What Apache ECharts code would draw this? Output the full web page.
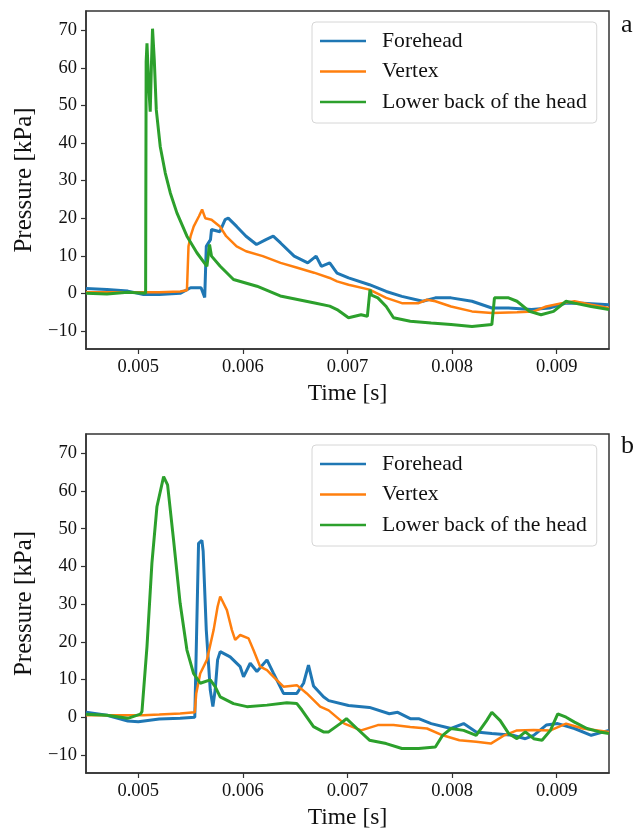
<!DOCTYPE html>
<html>
<head>
<meta charset="utf-8">
<script src="https://cdn.jsdelivr.net/npm/echarts@6/dist/echarts.min.js"></script>
<style>html,body{margin:0;padding:0;background:#fff}#c{width:643px;height:831px}</style>
</head>
<body>
<div id="c"></div>
<script>
// ---- data (time [s], pressure [kPa]) ----
var seriesNames = ['Forehead', 'Vertex', 'Lower back of the head'];
var xTicks = [0.005, 0.006, 0.007, 0.008, 0.009];
var yTicks = [-10, 0, 10, 20, 30, 40, 50, 60, 70];

var topForehead = [[0.0045,1.3],[0.0047,1.0],[0.0049,0.6],[0.00505,-0.3],[0.0052,-0.3],[0.0054,0.0],[0.0055,1.5],[0.0056,1.5],[0.005635,-1.1],[0.00565,12.5],[0.00569,14.3],[0.0057,17.0],[0.00578,16.4],[0.00583,19.6],[0.00586,20.0],[0.00594,17.8],[0.00603,15.2],[0.00613,13.0],[0.00622,14.3],[0.00629,15.2],[0.00636,13.4],[0.00649,9.9],[0.00662,8.1],[0.0067,9.9],[0.00675,7.2],[0.00683,8.1],[0.0069,5.4],[0.00701,4.1],[0.00721,2.3],[0.00737,0.5],[0.00752,-0.8],[0.00772,-2.1],[0.00784,-1.2],[0.00799,-1.2],[0.00819,-2.1],[0.00838,-3.9],[0.00854,-3.9],[0.00876,-4.3],[0.00893,-3.9],[0.00909,-2.6],[0.00925,-2.6],[0.0095,-3.0]];
var topVertex = [[0.0045,0.3],[0.005,0.3],[0.0052,0.3],[0.0054,0.5],[0.005465,0.8],[0.00548,12.5],[0.0055,15.2],[0.00553,17.8],[0.00558,20.5],[0.00561,22.3],[0.00564,20.0],[0.0057,19.6],[0.00578,17.8],[0.00584,15.2],[0.00594,12.5],[0.00603,11.2],[0.00619,9.9],[0.00636,8.1],[0.00652,6.8],[0.00668,5.5],[0.00683,4.1],[0.0069,3.2],[0.00701,2.3],[0.00721,1.0],[0.00737,-1.2],[0.00752,-2.6],[0.00768,-2.6],[0.00776,-1.7],[0.00784,-2.1],[0.00799,-3.5],[0.00819,-4.8],[0.00838,-5.2],[0.00862,-5.0],[0.00878,-4.8],[0.0089,-3.5],[0.00905,-2.6],[0.00917,-2.1],[0.00933,-3.0],[0.0095,-3.9]];
var topBack = [[0.0045,0.0],[0.0047,-0.2],[0.0049,0.3],[0.00507,0.0],[0.005075,61.6],[0.005083,66.5],[0.0051,55.0],[0.005114,48.3],[0.005125,60.3],[0.005136,70.4],[0.005153,62.0],[0.005172,48.8],[0.00521,39.0],[0.005258,32.0],[0.005306,26.7],[0.005369,21.4],[0.005465,15.2],[0.00556,10.8],[0.005656,7.2],[0.005681,13.0],[0.0057,9.9],[0.005783,7.2],[0.00591,3.7],[0.006134,1.9],[0.006357,-0.7],[0.006675,-2.5],[0.00683,-3.4],[0.0069,-4.3],[0.00701,-6.5],[0.00713,-5.7],[0.00719,-6.1],[0.007215,1.0],[0.00723,-0.5],[0.00729,-1.2],[0.00737,-3.5],[0.00744,-6.5],[0.0076,-7.4],[0.0078,-7.9],[0.00799,-8.3],[0.00819,-8.8],[0.00838,-8.3],[0.008405,-1.2],[0.00841,-1.0],[0.00854,-1.2],[0.00862,-2.1],[0.00874,-4.8],[0.00885,-5.7],[0.00897,-4.8],[0.00909,-2.1],[0.00917,-2.6],[0.00933,-3.5],[0.0095,-4.3]];

var botForehead = [[0.0045,1.3],[0.0047,0.5],[0.0049,-1.0],[0.005,-1.2],[0.0052,-0.5],[0.0054,-0.3],[0.00554,0.0],[0.005576,46.1],[0.005608,46.9],[0.00562,44.0],[0.00565,23.1],[0.005688,7.2],[0.005713,2.8],[0.005735,7.2],[0.005758,15.2],[0.005783,17.4],[0.005878,16.0],[0.005974,13.4],[0.006006,10.7],[0.00607,14.3],[0.006134,12.1],[0.00623,15.2],[0.006293,11.6],[0.006388,6.3],[0.006516,6.3],[0.00658,9.0],[0.006627,13.8],[0.006675,8.3],[0.00677,5.4],[0.00682,4.4],[0.00701,3.1],[0.00721,2.6],[0.0074,0.9],[0.00748,1.3],[0.0076,-0.4],[0.00768,-0.4],[0.0078,-1.7],[0.00799,-3.0],[0.00811,-1.7],[0.00823,-3.9],[0.00838,-4.3],[0.00858,-4.8],[0.0087,-5.7],[0.00878,-4.8],[0.0089,-2.1],[0.00901,-1.7],[0.00917,-3.0],[0.00933,-4.8],[0.0095,-3.5]];
var botVertex = [[0.0045,0.5],[0.00505,0.5],[0.0052,0.7],[0.0054,1.0],[0.00554,1.3],[0.005554,6.3],[0.005592,11.6],[0.005656,15.2],[0.00572,23.1],[0.005758,29.3],[0.005783,32.0],[0.005847,28.4],[0.005895,23.1],[0.005926,20.5],[0.005974,21.8],[0.006054,20.9],[0.006101,17.8],[0.006165,13.4],[0.00623,12.5],[0.006293,10.7],[0.006388,8.1],[0.006516,8.5],[0.006611,6.3],[0.006739,2.8],[0.00682,1.8],[0.00697,-1.7],[0.00713,-3.5],[0.00729,-2.1],[0.00744,-2.1],[0.0076,-2.6],[0.00776,-3.0],[0.00791,-4.8],[0.00807,-6.1],[0.00823,-6.5],[0.00837,-7.0],[0.0085,-4.8],[0.00862,-3.5],[0.00878,-3.4],[0.00894,-3.5],[0.00909,-1.7],[0.00925,-3.0],[0.0095,-3.9]];
var botBack = [[0.0045,0.8],[0.0047,0.5],[0.0049,-0.3],[0.00502,0.8],[0.005035,1.5],[0.005083,18.7],[0.00513,40.8],[0.005178,55.8],[0.005242,63.8],[0.00528,61.6],[0.005337,47.0],[0.0054,30.2],[0.005465,17.8],[0.005528,11.6],[0.005592,9.0],[0.005688,9.9],[0.005735,8.1],[0.005783,5.4],[0.00591,3.6],[0.006038,2.8],[0.00623,3.2],[0.00642,3.8],[0.006516,3.6],[0.006564,1.9],[0.006675,-2.5],[0.00677,-3.9],[0.00682,-3.9],[0.00693,-1.7],[0.00699,-0.4],[0.00709,-3.0],[0.00721,-6.1],[0.00737,-7.0],[0.00752,-8.3],[0.00768,-8.3],[0.00784,-7.9],[0.00791,-4.8],[0.00799,-3.0],[0.00811,-3.5],[0.00823,-4.8],[0.00833,-0.9],[0.00838,1.3],[0.00846,-0.9],[0.00854,-4.3],[0.00862,-5.7],[0.0087,-3.9],[0.00878,-5.7],[0.00886,-6.1],[0.00894,-3.5],[0.00901,0.9],[0.00909,0.0],[0.00917,-1.3],[0.00929,-3.0],[0.00941,-3.9],[0.0095,-4.3]];

var colors = ['#1f77b4', '#ff7f0e', '#2ca02c'];
var FONT = '"Liberation Serif", "Times New Roman", serif';
var AX = '#333333';

function xAxisCfg(idx) {
  return {
    type: 'value', gridIndex: idx, min: 0.0045, max: 0.0095,
    name: 'Time [s]', nameLocation: 'middle', nameGap: 33,
    nameTextStyle: { fontFamily: FONT, fontSize: 23.5, color: '#111' },
    axisLine: { show: true, onZero: false, lineStyle: { color: AX, width: 1.5 } },
    axisTick: { show: true, length: 5, inside: false, customValues: xTicks, lineStyle: { color: AX, width: 1.2 } },
    axisLabel: { customValues: xTicks, margin: 9, fontFamily: FONT, fontSize: 18.5, color: '#111',
      formatter: function (v) { return v.toFixed(3); } },
    splitLine: { show: false }
  };
}
function yAxisCfg(idx) {
  return {
    type: 'value', gridIndex: idx, min: -14.8, max: 75.1,
    name: 'Pressure [kPa]', nameLocation: 'middle', nameGap: 43,
    nameTextStyle: { fontFamily: FONT, fontSize: 25, color: '#111' },
    axisLine: { show: true, onZero: false, lineStyle: { color: AX, width: 1.5 } },
    axisTick: { show: true, length: 5, inside: false, customValues: yTicks, lineStyle: { color: AX, width: 1.2 } },
    axisLabel: { customValues: yTicks, margin: 9, fontFamily: FONT, fontSize: 18.5, color: '#111',
      formatter: function (v) { return v < 0 ? '\u2212' + Math.abs(v) : String(v); } },
    splitLine: { show: false }
  };
}
function lineSeries(name, data, ci, idx, w) {
  return {
    type: 'line', name: name, data: data, xAxisIndex: idx, yAxisIndex: idx,
    showSymbol: false, symbol: 'none', animation: false,
    lineStyle: { color: colors[ci], width: w }, itemStyle: { color: colors[ci] }
  };
}
function legendCfg(top) {
  return {
    data: seriesNames, orient: 'vertical', left: 312, top: top,
    icon: 'rect', itemWidth: 46, itemHeight: 2.5, itemGap: 8.5,
    padding: [8, 10, 10, 8],
    backgroundColor: 'rgba(255,255,255,0.85)', borderColor: '#d6d6d6', borderWidth: 1, borderRadius: 4,
    textStyle: { fontFamily: FONT, fontSize: 21.7, color: '#111', lineHeight: 22, padding: [0, 0, 0, 11] },
    selectedMode: false
  };
}

var chart = echarts.init(document.getElementById('c'), null, { renderer: 'canvas' });
chart.setOption({
  backgroundColor: '#ffffff',
  animation: false,
  grid: [
    { left: 86, top: 11, width: 523, height: 338, show: true, borderColor: AX, borderWidth: 1.5, backgroundColor: 'transparent' },
    { left: 86, top: 434, width: 523, height: 339, show: true, borderColor: AX, borderWidth: 1.5, backgroundColor: 'transparent' }
  ],
  xAxis: [xAxisCfg(0), xAxisCfg(1)],
  yAxis: [yAxisCfg(0), yAxisCfg(1)],
  legend: [legendCfg(22), legendCfg(445)],
  graphic: [
    { type: 'text', left: 621, top: 12, style: { text: 'a', fontFamily: FONT, fontSize: 26, fill: '#111' } },
    { type: 'text', left: 621, top: 433, style: { text: 'b', fontFamily: FONT, fontSize: 26, fill: '#111' } }
  ],
  series: [
    lineSeries(seriesNames[0], topForehead, 0, 0, 3),
    lineSeries(seriesNames[1], topVertex, 1, 0, 2.5),
    lineSeries(seriesNames[2], topBack, 2, 0, 3),
    lineSeries(seriesNames[0], botForehead, 0, 1, 3),
    lineSeries(seriesNames[1], botVertex, 1, 1, 2.5),
    lineSeries(seriesNames[2], botBack, 2, 1, 3)
  ]
});
</script>
</body>
</html>
